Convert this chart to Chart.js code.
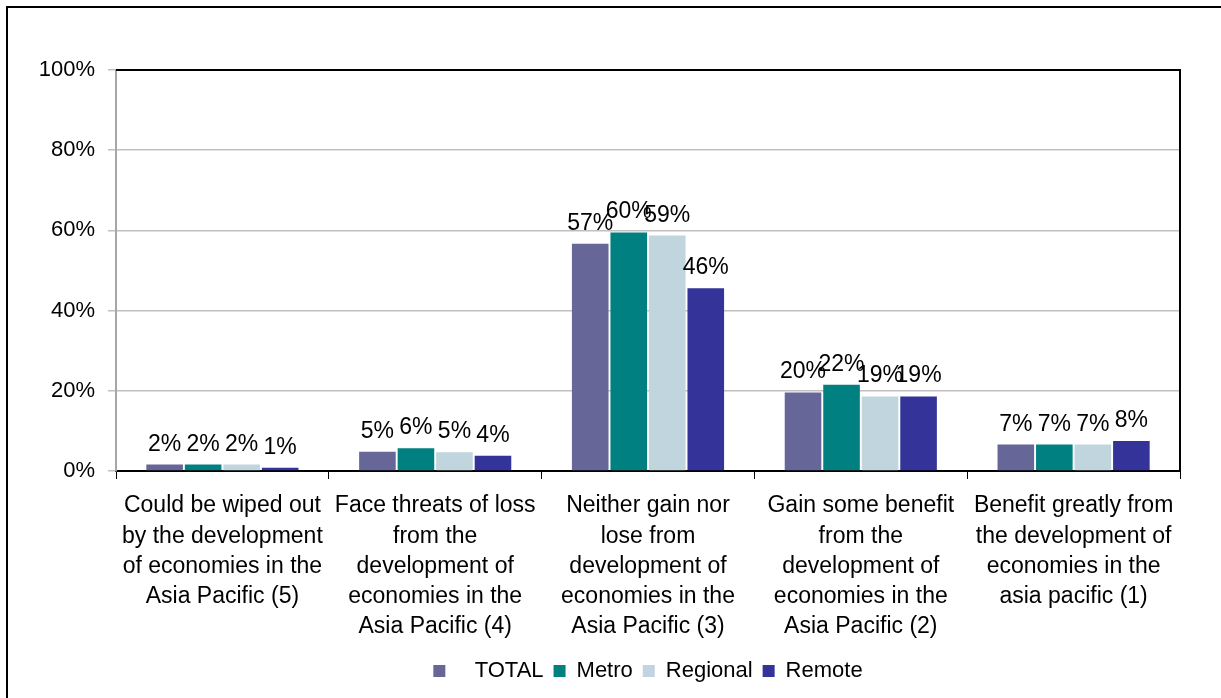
<!DOCTYPE html>
<html>
<head>
<meta charset="utf-8">
<script src="https://cdn.jsdelivr.net/npm/chart.js@4/dist/chart.umd.min.js"></script>
<style>
  html, body { margin: 0; padding: 0; background: #fff; overflow: hidden; }
  #grafico { display: block; }
</style>
</head>
<body>
<canvas id="grafico" width="1221" height="698"></canvas>
<script>
// categories (multi-line labels, as wrapped in the original)
const categorias = [
    ['Could be wiped out', 'by the development', 'of economies in the', 'Asia Pacific (5)'],
    ['Face threats of loss', 'from the', 'development of', 'economies in the', 'Asia Pacific (4)'],
    ['Neither gain nor', 'lose from', 'development of', 'economies in the', 'Asia Pacific (3)'],
    ['Gain some benefit', 'from the', 'development of', 'economies in the', 'Asia Pacific (2)'],
    ['Benefit greatly from', 'the development of', 'economies in the', 'asia pacific (1)']
];

// series values in %
const total    = [1.6, 4.8, 56.7, 19.6, 6.6];
const metro    = [1.6, 5.7, 59.5, 21.5, 6.6];
const regional = [1.6, 4.7, 58.7, 18.6, 6.6];
const remote   = [0.8, 3.8, 45.6, 18.6, 7.5];

const nomesSeries = ['TOTAL', 'Metro', 'Regional', 'Remote'];
const coresSeries = ['#666699', '#008080', '#c0d5dd', '#333399'];

// y axis ticks
const yMin = 0, yMax = 100, yPasso = 20;

const fonte = "'Liberation Sans', Arial, sans-serif";

// draws the value above each bar
const rotulosBarras = {
    id: 'rotulosBarras',
    afterDatasetsDraw(chart) {
        const ctx = chart.ctx;
        ctx.save();
        ctx.font = '23px ' + fonte;
        ctx.fillStyle = '#000';
        ctx.textAlign = 'center';
        ctx.textBaseline = 'alphabetic';
        chart.data.datasets.forEach((ds, i) => {
            const meta = chart.getDatasetMeta(i);
            meta.data.forEach((bar, j) => {
                ctx.fillText(Math.round(ds.data[j]) + '%', bar.x, bar.y - 14);
            });
        });
        ctx.restore();
    }
};

// outer frame and top/right border of the plot area
const molduras = {
    id: 'molduras',
    beforeDraw(chart) {
        const ctx = chart.ctx;
        ctx.save();
        ctx.fillStyle = '#fff';
        ctx.fillRect(0, 0, chart.width, chart.height);
        ctx.strokeStyle = '#000';
        ctx.lineWidth = 2;
        ctx.strokeRect(7, 7, chart.width + 20, chart.height + 20);
        ctx.restore();
    },
    afterDraw(chart) {
        const a = chart.chartArea;
        const ctx = chart.ctx;
        ctx.save();
        ctx.strokeStyle = '#000';
        ctx.lineWidth = 2;
        ctx.beginPath();
        ctx.moveTo(a.left, a.top);
        ctx.lineTo(a.right, a.top);
        ctx.lineTo(a.right, a.bottom);
        ctx.stroke();
        ctx.restore();
    }
};

const series = [total, metro, regional, remote];

new Chart(document.getElementById('grafico'), {
    type: 'bar',
    data: {
        labels: categorias,
        datasets: series.map((dados, i) => ({
            label: nomesSeries[i],
            data: dados,
            backgroundColor: coresSeries[i],
            borderWidth: 0,
            categoryPercentage: 0.724,
            barPercentage: 0.95
        }))
    },
    options: {
        responsive: false,
        animation: false,
        layout: { padding: { top: 70, right: 41, bottom: 6, left: 0 } },
        scales: {
            x: {
                afterFit: (scale) => { scale.height = 179; },
                grid: { offset: true, drawOnChartArea: false, color: '#000', tickLength: 8, lineWidth: 1 },
                border: { color: '#000', width: 2 },
                ticks: {
                    color: '#000',
                    padding: 12,
                    maxRotation: 0,
                    autoSkip: false,
                    font: { family: fonte, size: 23, lineHeight: 1.31 }
                }
            },
            y: {
                min: yMin,
                max: yMax,
                afterFit: (scale) => { scale.width = 116; },
                grid: { color: '#c0c0c0', tickLength: 8, lineWidth: 1.5 },
                border: { color: '#a6a6a6', width: 2 },
                ticks: {
                    stepSize: yPasso,
                    color: '#000',
                    padding: 13,
                    font: { family: fonte, size: 22 },
                    callback: (v) => v + '%'
                }
            }
        },
        plugins: {
            tooltip: { enabled: false },
            legend: {
                position: 'bottom',
                fullSize: false,
                labels: {
                    color: '#000',
                    font: { family: fonte, size: 22 },
                    boxWidth: 12,
                    boxHeight: 12,
                    padding: 10,
                    generateLabels: (chart) => Chart.defaults.plugins.legend.labels.generateLabels(chart).map(l => {
                        if (l.text === 'TOTAL') l.text = '   TOTAL'; // extra gap as in the original
                        return l;
                    })
                }
            }
        }
    },
    plugins: [molduras, rotulosBarras]
});
</script>
</body>
</html>
